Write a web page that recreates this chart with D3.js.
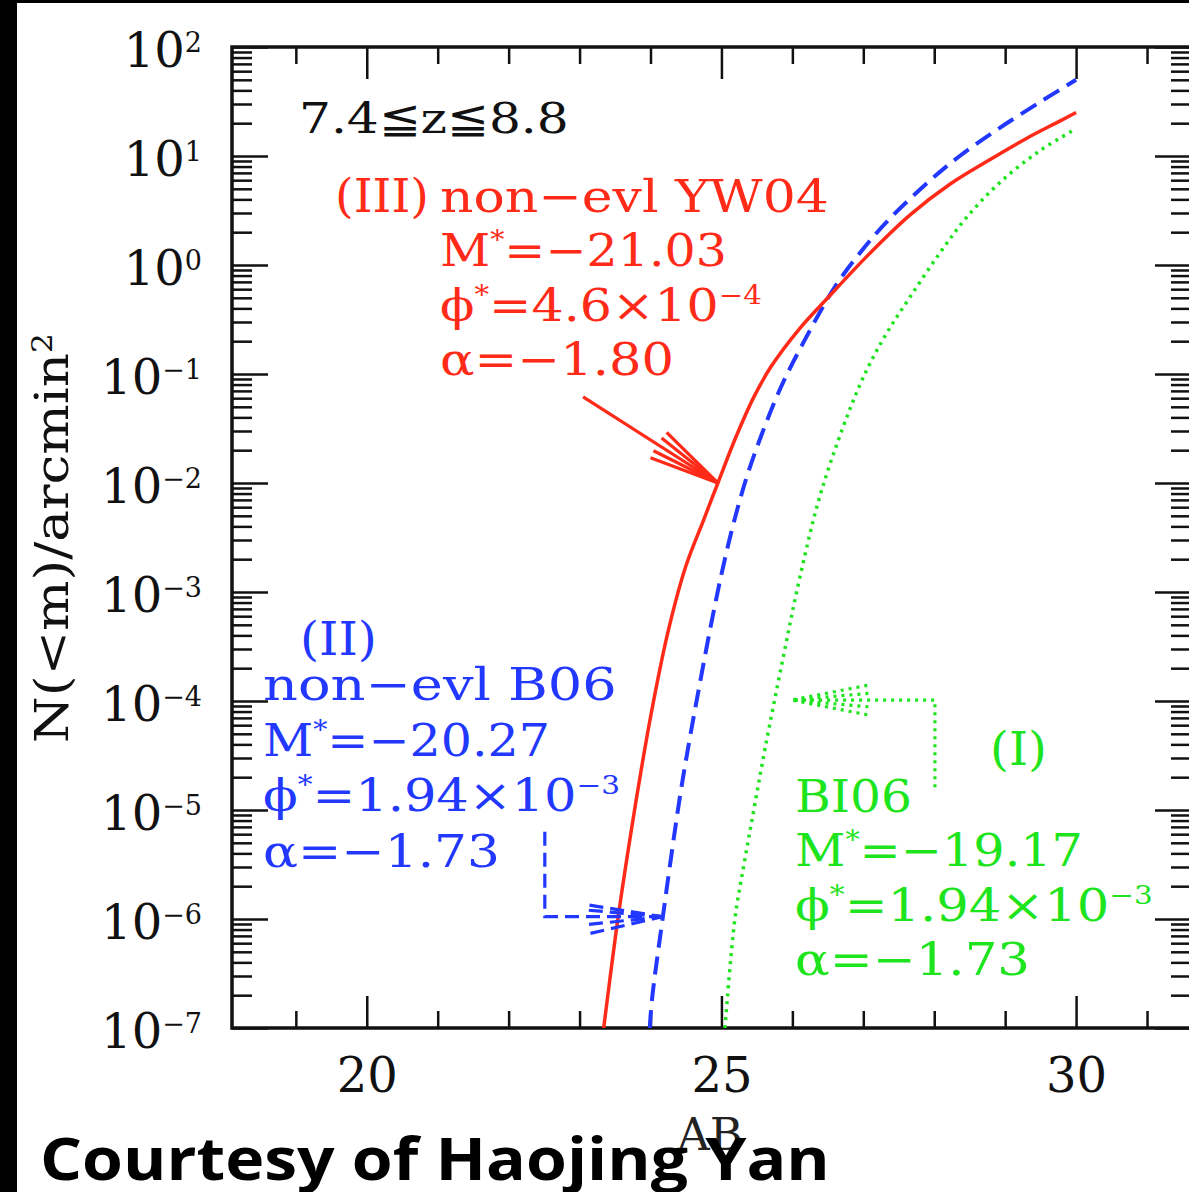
<!DOCTYPE html>
<html>
<head>
<meta charset="utf-8">
<script src="https://cdn.jsdelivr.net/npm/d3@7"></script>
<style>
body { margin: 0; background: #000; }
svg { display: block; }
text { font-family: "DejaVu Serif", serif; }
</style>
</head>
<body>
<script>
// ---- data ----
var redMag = [23.34, 23.385, 23.54, 23.75, 24.00, 24.25, 24.50, 24.75, 24.95, 25.20, 25.46, 25.70, 26.10, 26.50, 27.05, 27.66, 28.22, 28.74, 29.30, 29.77, 30.00];
var redN   = [1.0e-7, 1.7e-7, 1.0e-6, 7.9e-6, 7.1e-5, 4.4e-4, 1.74e-3, 4.6e-3, 1.0e-2, 2.6e-2, 6.2e-2, 0.117, 0.26, 0.50, 1.20, 2.88, 5.5, 8.9, 14.5, 20.9, 25.1];

var blueMag = [23.99, 24.02, 24.17, 24.41, 24.55, 24.70, 24.85, 25.00, 25.16, 25.35, 25.55, 25.84, 26.20, 26.60, 27.00, 27.38, 27.97, 28.36, 28.93, 29.53, 30.00];
var blueN   = [1.0e-7, 1.8e-7, 1.0e-6, 1.26e-5, 4.4e-5, 1.5e-4, 4.9e-4, 1.45e-3, 4.0e-3, 1.1e-2, 2.6e-2, 7.6e-2, 0.22, 0.63, 1.41, 2.69, 6.2, 10.0, 18.2, 32.4, 50];

var greenMag = [25.05, 25.19, 25.33, 25.47, 25.62, 25.87, 26.11, 26.42, 26.95, 27.30, 27.66, 28.08, 28.46, 28.93, 29.49, 30.00];
var greenN   = [1.0e-7, 1.0e-6, 3.5e-6, 1.12e-5, 3.8e-5, 2.5e-4, 1.4e-3, 8.9e-3, 7.9e-2, 0.22, 0.51, 1.29, 2.75, 5.75, 11.2, 17.8];

var xMajor = [20, 25, 30];
var xMinor = [19, 21, 22, 23, 24, 26, 27, 28, 29, 31];
var yExp = [-7, -6, -5, -4, -3, -2, -1, 0, 1, 2];

// arrows, vertices in (mag, N)
var redArrow = [[23.05, 0.0617], [24.95, 0.01]];
var blueArrow = [[22.51, 6.3e-6], [22.51, 1.05e-6], [24.17, 1.05e-6]];
var greenArrow = [[28.01, 1.62e-5], [28.01, 1.02e-4], [25.99, 1.02e-4]];

// labels ("^" wraps a superscript)
var zRange = "7.4≦z≦8.8";
var redTag = "(III)", blueTag = "(II)", greenTag = "(I)";
var redText = ["non−evl YW04", "M^*^=−21.03", "ϕ^*^=4.6×10^−4", "α=−1.80"];
var blueText = ["non−evl B06", "M^*^=−20.27", "ϕ^*^=1.94×10^−3", "α=−1.73"];
var greenText = ["BI06", "M^*^=−19.17", "ϕ^*^=1.94×10^−3", "α=−1.73"];

var RED = "#ff2a17", BLUE = "#2238ff", GREEN = "#1ee41e";

var W = 1189, H = 1192;
var plotL = 232, plotR = 1191, plotT = 47, plotB = 1028;

var svg = d3.select("body").append("svg").attr("width", W).attr("height", H);
svg.append("rect").attr("width", W).attr("height", H).attr("fill", "#000");
svg.append("rect").attr("x", 17).attr("y", 3).attr("width", W - 17).attr("height", H - 3).attr("fill", "#fff");

var x = d3.scaleLinear().domain([18.1, 31.62]).range([plotL, plotR]);
var y = d3.scaleLog().domain([1e-7, 1e2]).range([plotB, plotT]);

svg.append("defs").append("clipPath").attr("id", "plotclip")
    .append("rect").attr("x", plotL).attr("y", plotT).attr("width", plotR - plotL).attr("height", plotB - plotT);

// helper: stretch a text horizontally to a measured width
function fit(t, w) {
    var bb = t.node().getBBox();
    var x0 = +t.attr("x") || 0;
    if (t.attr("text-anchor") === "middle") x0 = bb.x + bb.width / 2;
    var s = w / bb.width;
    t.attr("transform", "translate(" + x0 + ",0) scale(" + s + ",1) translate(" + (-x0) + ",0)");
}

function richText(t, str, supSize, raise) {
    var parts = str.split("^");
    parts.forEach(function (p, i) {
        if (p === "") return;
        var ts = t.append("tspan").text(p);
        if (i % 2 === 1) {
            ts.attr("font-size", supSize).attr("dy", -raise);
        } else if (i > 0) {
            ts.attr("dy", raise);
        }
    });
}

// ---- axes (ticks pointing in) ----
function styleAxis(g) {
    g.select(".domain").remove();
    g.selectAll(".tick line").attr("stroke", "#111").attr("stroke-width", 2.5);
}

svg.append("g").attr("transform", "translate(0," + plotB + ")")
    .call(d3.axisBottom(x).tickValues(xMinor).tickSizeInner(-17).tickSizeOuter(0).tickFormat(""))
    .call(styleAxis);
svg.append("g").attr("transform", "translate(0," + plotB + ")")
    .call(d3.axisBottom(x).tickValues(xMajor).tickSizeInner(-32).tickSizeOuter(0).tickPadding(30).tickFormat(d3.format("d")))
    .call(styleAxis)
    .selectAll("text").attr("font-size", 48).attr("fill", "#111")
    .style("font-family", "DejaVu Serif");
svg.append("g").attr("transform", "translate(0," + plotT + ")")
    .call(d3.axisTop(x).tickValues(xMinor).tickSizeInner(-17).tickSizeOuter(0).tickFormat(""))
    .call(styleAxis);
svg.append("g").attr("transform", "translate(0," + plotT + ")")
    .call(d3.axisTop(x).tickValues(xMajor).tickSizeInner(-32).tickSizeOuter(0).tickFormat(""))
    .call(styleAxis);

var yMinor = [];
yExp.slice(0, -1).forEach(function (e) {
    for (var j = 2; j <= 9; j++) yMinor.push(j * Math.pow(10, e));
});
var yMajor = yExp.map(function (e) { return Math.pow(10, e); });

[plotL, plotR].forEach(function (px, k) {
    var mk = k === 0 ? d3.axisLeft : d3.axisRight;
    svg.append("g").attr("transform", "translate(" + px + ",0)")
        .call(mk(y).tickValues(yMinor).tickSizeInner(-20).tickSizeOuter(0).tickFormat(""))
        .call(styleAxis);
    svg.append("g").attr("transform", "translate(" + px + ",0)")
        .call(mk(y).tickValues(yMajor).tickSizeInner(-36).tickSizeOuter(0).tickFormat(""))
        .call(styleAxis);
});

// y tick labels: 10^e
yExp.forEach(function (e) {
    var t = svg.append("text")
        .attr("x", 202).attr("y", y(Math.pow(10, e)) + 20)
        .attr("text-anchor", "end").attr("font-size", 48).attr("fill", "#111");
    richText(t, "10^" + (e < 0 ? "−" + (-e) : e), 27, 15);
});

// frame
svg.append("rect")
    .attr("x", plotL).attr("y", plotT).attr("width", plotR - plotL).attr("height", plotB - plotT)
    .attr("fill", "none").attr("stroke", "#111").attr("stroke-width", 3.5);

// axis titles
svg.append("text").attr("x", 710).attr("y", 1150).attr("text-anchor", "middle")
    .attr("font-size", 45).attr("fill", "#222").text("AB");

var yl = svg.append("g").attr("transform", "translate(68,538) rotate(-90)")
    .append("text").attr("text-anchor", "middle").attr("font-size", 46).attr("fill", "#111");
richText(yl, "N(<m)/arcmin^2", 27, 16);
fit(yl, 410);

// ---- curves ----
var line = d3.line().x(function (d) { return x(d[0]); }).y(function (d) { return y(d[1]); })
    .curve(d3.curveCatmullRom.alpha(0.5));
var curves = svg.append("g").attr("clip-path", "url(#plotclip)");

curves.append("path").datum(d3.zip(greenMag, greenN)).attr("d", line)
    .attr("fill", "none").attr("stroke", GREEN).attr("stroke-width", 3.5).attr("stroke-dasharray", "3,5");
curves.append("path").datum(d3.zip(blueMag, blueN)).attr("d", line)
    .attr("fill", "none").attr("stroke", BLUE).attr("stroke-width", 4).attr("stroke-dasharray", "18,9");
curves.append("path").datum(d3.zip(redMag, redN)).attr("d", line)
    .attr("fill", "none").attr("stroke", RED).attr("stroke-width", 3.5);

// ---- arrows ----
function arrow(pts, color, dash, spreads, len) {
    var p = pts.map(function (d) { return [x(d[0]), y(d[1])]; });
    var g = svg.append("g").attr("fill", "none").attr("stroke", color).attr("stroke-width", 3.2);
    if (dash) g.attr("stroke-dasharray", dash);
    g.append("path").attr("d", d3.line()(p));
    var a = p[p.length - 1], b = p[p.length - 2];
    var ang = Math.atan2(b[1] - a[1], b[0] - a[0]);
    spreads.forEach(function (s) {
        var r = ang + s * Math.PI / 180;
        g.append("path").attr("d", d3.line()([[a[0] + len * Math.cos(r), a[1] + len * Math.sin(r)], a]));
    });
}
arrow(redArrow, RED, null, [-12, -6, 6, 12], 72);
arrow(blueArrow, BLUE, "14,7", [-13, -6, 5, 9], 74);
arrow(greenArrow, GREEN, "3,5", [-11, -5, 5, 11], 77);

// ---- annotations ----
var zt = svg.append("text").attr("x", 299).attr("y", 133).attr("font-size", 43).attr("fill", "#111").text(zRange);
fit(zt, 270);

function block(lines, color, x0, y0, dy, widths) {
    lines.forEach(function (s, i) {
        var t = svg.append("text").attr("x", x0).attr("y", y0 + i * dy)
            .attr("font-size", 45).attr("fill", color);
        richText(t, s, 26, 17);
        fit(t, widths[i]);
    });
}
function tag(s, color, x0, y0, w) {
    var t = svg.append("text").attr("x", x0).attr("y", y0).attr("font-size", 47).attr("fill", color).text(s);
    fit(t, w);
}

tag(redTag, RED, 335, 212, 94);
block(redText, RED, 440, 212, 54.5, [389, 287, 322, 234]);

tag(blueTag, BLUE, 300, 655, 77);
block(blueText, BLUE, 263, 700, 55.7, [354, 287, 357, 237]);

tag(greenTag, GREEN, 990, 765, 57);
block(greenText, GREEN, 795, 812, 54.3, [117, 288, 358, 235]);

// credit line
var cr = svg.append("text").attr("x", 40).attr("y", 1180)
    .style("font-family", "'Open Sans', Lato, sans-serif").attr("font-weight", 700)
    .attr("font-size", 60).attr("fill", "#000").text("Courtesy of Haojing Yan");
fit(cr, 790);
</script>
</body>
</html>
